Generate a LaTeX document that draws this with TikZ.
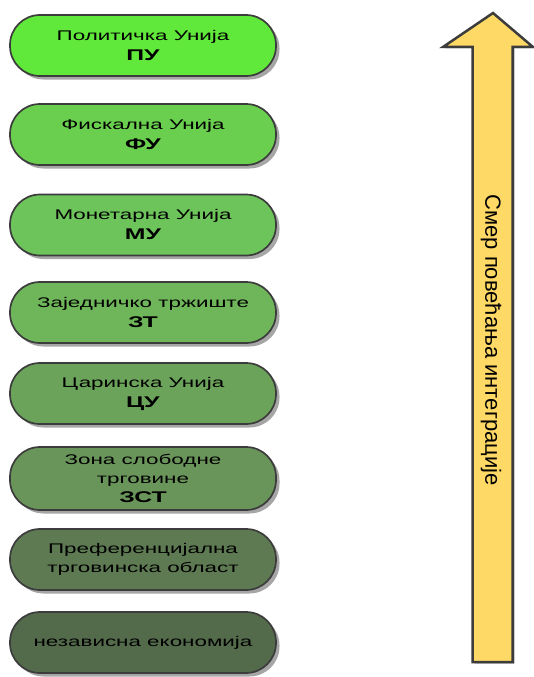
\documentclass[tikz,border=0pt]{standalone}
\usepackage{fontspec}
\setmainfont{Liberation Sans}
\newfontfamily\boxfont[FakeStretch=1.6]{Liberation Sans}
\usetikzlibrary{shadows}
\definecolor{gA}{HTML}{60E83A}
\definecolor{gB}{HTML}{6ACF4E}
\definecolor{gC}{HTML}{6DC45B}
\definecolor{gD}{HTML}{6FB65A}
\definecolor{gE}{HTML}{6CA35A}
\definecolor{gF}{HTML}{6A955A}
\definecolor{gG}{HTML}{5E7A52}
\definecolor{gH}{HTML}{536A4B}
\definecolor{arrowfill}{HTML}{FFD966}
\definecolor{edgegray}{HTML}{3C3C3C}
\tikzset{
  stage/.style={draw=edgegray, line width=1.7pt, rounded corners=30pt,
    minimum width=266pt, minimum height=61pt, inner sep=0pt, align=center,
    font=\boxfont\fontsize{14}{19}\selectfont, text=black,
    drop shadow={shadow xshift=3.5pt, shadow yshift=-3.5pt, opacity=0.35, fill=black}},
  bigarrow/.style={draw=edgegray, line width=2.5pt, fill=arrowfill, line join=miter,
    drop shadow={shadow xshift=2pt, shadow yshift=-1.5pt, opacity=0.3, fill=black}},
  arrowlabel/.style={rotate=-90, font=\fontsize{22}{26}\selectfont, inner sep=0pt}
}
\newcommand{\abbrev}[1]{\textbf{\fontsize{15.5}{19}\selectfont #1}}
\begin{document}
\begin{tikzpicture}[x=1pt,y=-1pt]
\useasboundingbox (0,0) rectangle (534,677);
% stages
\node[stage, fill=gA] (pu)  at (143,45.5) {Политичка Унија\\[1pt]\abbrev{ПУ}};
\node[stage, fill=gB] (fu)  at (143,134.5) {Фискална Унија\\[1pt]\abbrev{ФУ}};
\node[stage, fill=gC] (mu)  at (143,225) {Монетарна Унија\\[1pt]\abbrev{МУ}};
\node[stage, fill=gD] (zt)  at (143,312.5) {Заједничко тржиште\\[1pt]\abbrev{ЗТ}};
\node[stage, fill=gE] (cu)  at (143,393.5) {Царинска Унија\\[1pt]\abbrev{ЦУ}};
\node[stage, fill=gF, minimum height=63pt] (zst) at (143,478.5) {Зона слободне\\трговине\\\abbrev{ЗСТ}};
\node[stage, fill=gG] (pto) at (143,559.5) {Преференцијална\\трговинска област};
\node[stage, fill=gH] (ne)  at (143,642.5) {независна економија};
% arrow
\draw[bigarrow] (472.5,662) -- (472.5,47) -- (443,47) -- (493,13) -- (533,47) -- (512.5,47) -- (512.5,662) -- cycle;
\node[arrowlabel] (lbl) at (491,340) {Смер повећања интеграције};
\end{tikzpicture}
\end{document}
